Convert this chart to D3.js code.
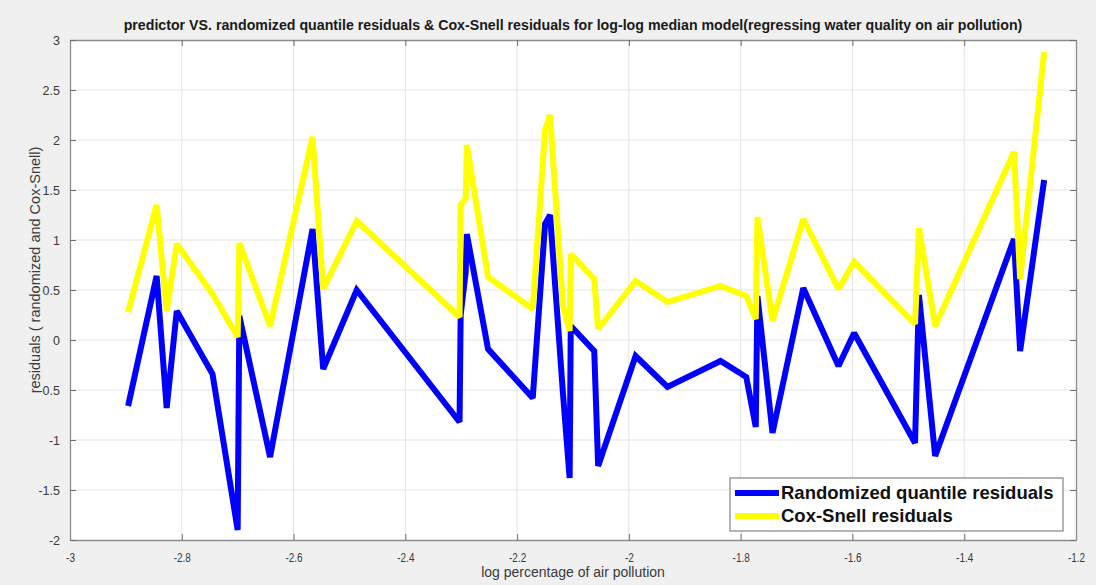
<!DOCTYPE html>
<html lang="en">
<head>
    <meta charset="UTF-8"/>
    <title>predictor VS. residuals</title>
    <script src="https://d3js.org/d3.v7.min.js"></script>
    <style>
        html, body {
            margin: 0;
            padding: 0;
            background-color: #f0f0f0;
        }
        svg text {
            font-family: "Liberation Sans", Arial, Helvetica, sans-serif;
        }
    </style>
</head>
<body>
    <div class="chart-container"></div>
    <script>
        var w = 1096;
        var h = 585;

        // predictor (log percentage of air pollution)
        var predictor = [
            -2.896, -2.845, -2.827, -2.809, -2.745, -2.700, -2.697, -2.642, -2.566, -2.547,
            -2.487, -2.303, -2.301, -2.292, -2.290, -2.252, -2.172, -2.150, -2.141, -2.118,
            -2.106, -2.104, -2.062, -2.055, -1.988, -1.931, -1.836, -1.790, -1.773, -1.770,
            -1.743, -1.688, -1.625, -1.597, -1.488, -1.481, -1.452, -1.311, -1.300, -1.257
        ];
        var quantileRes = [
            -0.66, 0.64, -0.68, 0.29, -0.34, -1.90, 0.24, -1.17, 1.11, -0.29,
            0.50, -0.82, 0.25, 0.68, 1.06, -0.09, -0.58, 1.16, 1.25, -0.53,
            -1.38, 0.14, -0.11, -1.26, -0.16, -0.47, -0.21, -0.37, -0.87, 0.44,
            -0.93, 0.52, -0.26, 0.07, -1.03, 0.45, -1.16, 1.01, -0.11, 1.60
        ];
        var coxSnellRes = [
            0.28, 1.35, 0.29, 0.96, 0.46, 0.03, 0.97, 0.14, 2.03, 0.51,
            1.19, 0.23, 1.35, 1.41, 1.95, 0.63, 0.31, 2.10, 2.25, 0.34,
            0.09, 0.86, 0.61, 0.11, 0.59, 0.38, 0.54, 0.44, 0.21, 1.23,
            0.19, 1.21, 0.51, 0.78, 0.16, 1.12, 0.14, 1.88, 0.61, 2.88
        ];
        var xTicks = [-3, -2.8, -2.6, -2.4, -2.2, -2, -1.8, -1.6, -1.4, -1.2];
        var yTicks = [-2, -1.5, -1, -0.5, 0, 0.5, 1, 1.5, 2, 2.5, 3];
        var seriesNames = ["Randomized quantile residuals", "Cox-Snell residuals"];
        var seriesColors = ["#0000ff", "#ffff00"];

        // plot box (pixels)
        var boxL = 70, boxR = 1076, boxT = 40, boxB = 540;

        var x = d3.scaleLinear().domain([-3, -1.2]).range([boxL, boxR]);
        var y = d3.scaleLinear().domain([-2, 3]).range([boxB, boxT]);

        var svg = d3.select(".chart-container")
                    .append("svg")
                    .attr("width", w)
                    .attr("height", h)
                    .style("display", "block");

        // white axes area
        svg.append("rect")
            .attr("x", boxL).attr("y", boxT)
            .attr("width", boxR - boxL).attr("height", boxB - boxT)
            .attr("fill", "white");

        // grid lines
        svg.append("g").selectAll("line")
            .data(xTicks.slice(1, -1))
            .enter().append("line")
            .attr("x1", d => x(d)).attr("x2", d => x(d))
            .attr("y1", boxT).attr("y2", boxB)
            .attr("stroke", "#e3e3e3").attr("stroke-width", 1);
        svg.append("g").selectAll("line")
            .data(yTicks.slice(1, -1))
            .enter().append("line")
            .attr("x1", boxL).attr("x2", boxR)
            .attr("y1", d => y(d)).attr("y2", d => y(d))
            .attr("stroke", "#e3e3e3").attr("stroke-width", 1);

        // axes (ticks inside, MATLAB style)
        var fmt = d => String(d);
        var xAxis = svg.append("g")
            .attr("transform", "translate(0," + boxB + ")")
            .call(d3.axisBottom(x).tickValues(xTicks).tickSizeInner(-6).tickSizeOuter(0).tickPadding(13).tickFormat(fmt));
        var xAxisTop = svg.append("g")
            .attr("transform", "translate(0," + boxT + ")")
            .call(d3.axisTop(x).tickValues(xTicks).tickSizeInner(-6).tickSizeOuter(0).tickFormat(""));
        var yAxis = svg.append("g")
            .attr("transform", "translate(" + boxL + ",0)")
            .call(d3.axisLeft(y).tickValues(yTicks).tickSizeInner(-6).tickSizeOuter(0).tickPadding(10).tickFormat(fmt));
        var yAxisRight = svg.append("g")
            .attr("transform", "translate(" + boxR + ",0)")
            .call(d3.axisRight(y).tickValues(yTicks).tickSizeInner(-6).tickSizeOuter(0).tickFormat(""));

        [xAxis, xAxisTop, yAxis, yAxisRight].forEach(function(g) {
            g.select(".domain").attr("stroke", "#8c8c8c").attr("stroke-width", 1.3);
            g.selectAll(".tick line").attr("stroke", "#6e6e6e");
            g.selectAll(".tick text").attr("fill", "#3a3a3a").style("font-size", "12.5px");
        });
        // the x tick labels look horizontally squeezed in the reference
        xAxis.selectAll(".tick text").attr("transform", "scale(0.8,1)");

        // lines
        var line = d3.line()
            .x(d => x(d[0]))
            .y(d => y(d[1]));

        var seriesData = [
            predictor.map((p, i) => [p, quantileRes[i]]),
            predictor.map((p, i) => [p, coxSnellRes[i]])
        ];

        svg.selectAll("path.series")
            .data(seriesData)
            .enter()
            .append("path")
            .attr("class", "series")
            .attr("d", line)
            .attr("fill", "none")
            .attr("stroke", (d, i) => seriesColors[i])
            .attr("stroke-width", 6)
            .attr("stroke-linejoin", "miter")
            .attr("stroke-miterlimit", 2);

        // title and axis labels
        svg.append("text")
            .attr("x", 573).attr("y", 30)
            .attr("text-anchor", "middle")
            .style("font-size", "14.2px").style("font-weight", "bold")
            .attr("fill", "#1a1a1a")
            .text("predictor VS. randomized quantile residuals & Cox-Snell residuals for log-log median model(regressing water quality on air pollution)");

        svg.append("text")
            .attr("transform", "translate(573,577)")
            .attr("text-anchor", "middle")
            .style("font-size", "14px")
            .attr("fill", "#3a3a3a")
            .text("log percentage of air pollution");

        svg.append("text")
            .attr("transform", "translate(40,270) rotate(-90)")
            .attr("text-anchor", "middle")
            .style("font-size", "14.5px")
            .attr("fill", "#3a3a3a")
            .text("residuals ( randomized and Cox-Snell)");

        // legend
        var legend = svg.append("g");
        legend.append("rect")
            .attr("x", 730).attr("y", 478)
            .attr("width", 333).attr("height", 53)
            .attr("fill", "white")
            .attr("stroke", "#8c8c8c").attr("stroke-width", 1.3);
        seriesNames.forEach(function(name, i) {
            var ly = 493 + i * 23;
            legend.append("line")
                .attr("x1", 735).attr("x2", 779)
                .attr("y1", ly).attr("y2", ly)
                .attr("stroke", seriesColors[i]).attr("stroke-width", 6);
            legend.append("text")
                .attr("x", 781).attr("y", ly + 6)
                .style("font-size", "18.5px").style("font-weight", "bold")
                .attr("fill", "#111")
                .text(name);
        });
    </script>
</body>
</html>
